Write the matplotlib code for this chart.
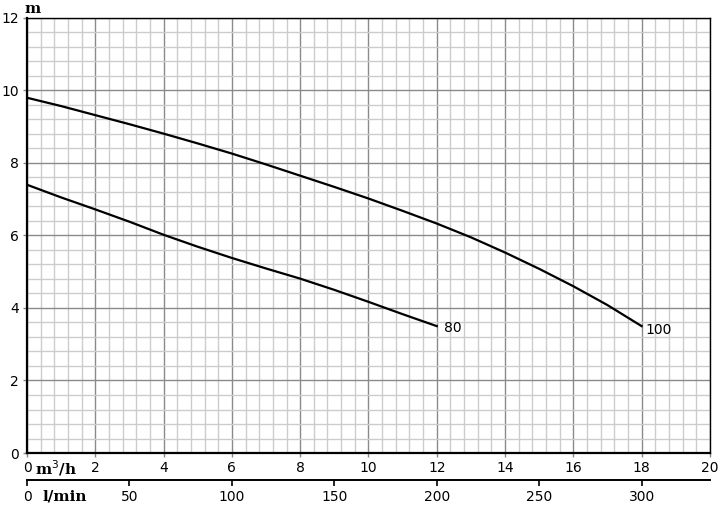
import numpy as np
import matplotlib
matplotlib.use('Agg')
from matplotlib import pyplot as plt
from matplotlib.ticker import MultipleLocator

# flow in m3/h and head in m
q_100 = [0, 1, 2, 3, 4, 5, 6, 7, 8, 9, 10, 11, 12, 13, 14, 15, 16, 17, 18]
h_100 = [9.8, 9.57, 9.32, 9.07, 8.81, 8.54, 8.26, 7.96, 7.65, 7.34, 7.02,
         6.68, 6.33, 5.95, 5.53, 5.08, 4.6, 4.08, 3.5]
q_80 = [0, 1, 2, 3, 4, 5, 6, 7, 8, 9, 10, 11, 12]
h_80 = [7.4, 7.05, 6.72, 6.38, 6.02, 5.69, 5.38, 5.09, 4.81, 4.5, 4.17,
        3.83, 3.5]

x_ticks = [0, 2, 4, 6, 8, 10, 12, 14, 16, 18, 20]
y_ticks = [0, 2, 4, 6, 8, 10, 12]
lmin_ticks = [0, 50, 100, 150, 200, 250, 300]

fig = plt.figure(figsize=(7.2, 5.11), dpi=100)
ax = fig.add_axes([0.0375, 0.1135, 0.9485, 0.8513])

ax.set_xlim(0, 20)
ax.set_ylim(0, 12)
ax.set_xticks(x_ticks)
ax.set_yticks(y_ticks)
ax.xaxis.set_minor_locator(MultipleLocator(0.4))
ax.yaxis.set_minor_locator(MultipleLocator(0.4))
ax.grid(which='minor', color='#cccccc', lw=1.0)
ax.grid(which='major', color='#8a8a8a', lw=1.0)
ax.set_axisbelow(True)
ax.tick_params(which='minor', length=0)
ax.tick_params(which='major', length=3, width=1, color='#888888',
               labelsize=10, pad=3)
for s in ax.spines.values():
    s.set_color('black')
    s.set_linewidth(1.0)
ax.spines['left'].set_linewidth(1.6)
ax.spines['bottom'].set_linewidth(1.6)

ax.plot(q_100, h_100, color='black', lw=1.6)
ax.plot(q_80, h_80, color='black', lw=1.6)
ax.text(12.2, 3.45, '80', fontsize=10, va='center', ha='left')
ax.text(18.1, 3.38, '100', fontsize=10, va='center', ha='left')

# second flow scale in l/min
sec = ax.secondary_xaxis(-0.062, functions=(lambda q: q * 1000 / 60,
                                             lambda l: l * 60 / 1000))
sec.set_xticks(lmin_ticks)
sec.tick_params(length=4, width=1.2, labelsize=10, pad=3)
sec.spines['bottom'].set_linewidth(1.4)

ax.text(0.012, -0.012, 'm$^3$/h', transform=ax.transAxes, family='serif',
        fontsize=11, ha='left', va='top', fontweight='bold')
ax.text(0.022, -0.085, 'l/min', transform=ax.transAxes, family='serif',
        fontsize=11, ha='left', va='top', fontweight='bold')
ax.text(-0.003, 1.005, 'm', transform=ax.transAxes, family='serif',
        fontsize=11, ha='left', va='bottom', fontweight='bold')

fig.savefig('out.png', dpi=100)
